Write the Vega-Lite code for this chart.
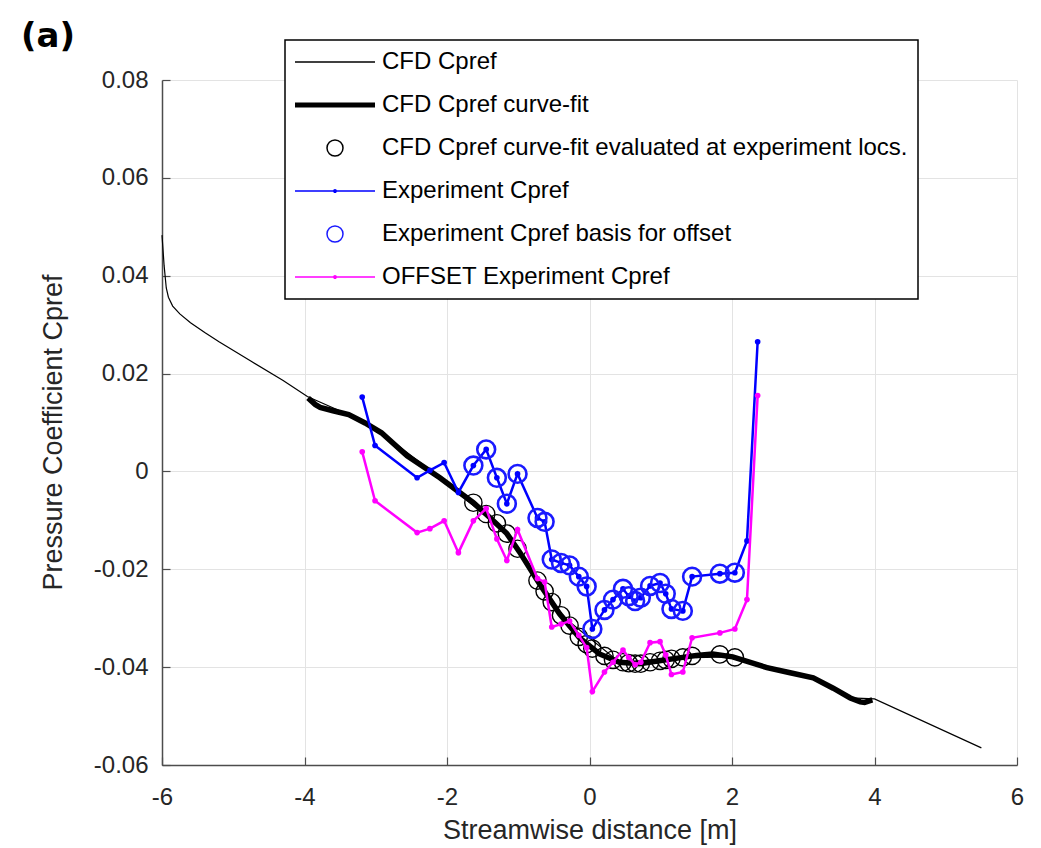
{
  "$schema": "https://vega.github.io/schema/vega-lite/v6.json",
  "autosize": {"type": "none"},
  "padding": {"left": 162, "top": 80, "right": 24, "bottom": 83},
  "width": 855,
  "height": 685,
  "background": "white",
  "title": {"text": "(a)", "anchor": "start", "frame": "group", "dx": -141, "dy": 42, "offset": 0, "fontSize": 34, "font": "DejaVu Sans", "fontWeight": "bold", "color": "black", "baseline": "alphabetic"},
  "config": {
    "view": {"stroke": null},
    "axis": {
      "labelFont": "Liberation Sans", "labelFontSize": 24, "labelColor": "#262626", "labelFlush": false,
      "titleFont": "Liberation Sans", "titleFontSize": 27, "titleFontWeight": "normal", "titleColor": "#262626",
      "domainColor": "#4d4d4d", "domainWidth": 1.5, "tickColor": "#4d4d4d", "tickWidth": 1.2, "tickSize": -8,
      "gridColor": "#e3e3e3", "gridWidth": 1, "labelPadding": 22
    },
    "legend": {
      "orient": "none", "legendX": 123, "legendY": -40,
      "strokeColor": "black", "strokeWidth": 1.5, "fillColor": "white", "padding": 10,
      "symbolSize": 400, "symbolStrokeWidth": 1.5, "symbolOffset": 28, "labelOffset": 35,
      "symbolFillColor": "transparent", "symbolOpacity": 1,
      "labelFont": "Liberation Sans", "labelFontSize": 24, "labelColor": "black", "labelLimit": 800,
      "rowPadding": 19, "symbolLimit": 0, "titlePadding": 0
    }
  },
  "datasets": {
    "series": [
      {"s": "CFD Cpref"}, {"s": "CFD Cpref curve-fit"}, {"s": "CFD Cpref curve-fit evaluated at experiment locs."},
      {"s": "Experiment Cpref"}, {"s": "Experiment Cpref basis for offset"}, {"s": "OFFSET Experiment Cpref"}
    ],
    "cfd": [
      {"x": -6.0, "cp": 0.0483}, {"x": -5.97, "cp": 0.0420}, {"x": -5.94, "cp": 0.0375}, {"x": -5.91, "cp": 0.0356},
      {"x": -5.85, "cp": 0.0338}, {"x": -5.75, "cp": 0.0322}, {"x": -5.6, "cp": 0.0304}, {"x": -5.4, "cp": 0.0284},
      {"x": -5.2, "cp": 0.0265}, {"x": -4.76, "cp": 0.0226}, {"x": -4.3, "cp": 0.0186}, {"x": -3.96, "cp": 0.0153},
      {"x": -3.38, "cp": 0.0116}, {"x": -2.92, "cp": 0.0079}, {"x": -2.1, "cp": -0.0013}, {"x": -1.16, "cp": -0.0127},
      {"x": -0.42, "cp": -0.0291}, {"x": 0.42, "cp": -0.0390}, {"x": 1.26, "cp": -0.0381}, {"x": 2.01, "cp": -0.0379},
      {"x": 3.14, "cp": -0.0422}, {"x": 3.66, "cp": -0.0463}, {"x": 4.0, "cp": -0.0465}, {"x": 5.5, "cp": -0.0565}
    ],
    "fit": [
      {"x": -3.95, "cp": 0.0150}, {"x": -3.85, "cp": 0.0137}, {"x": -3.78, "cp": 0.0131}, {"x": -3.6, "cp": 0.0124},
      {"x": -3.38, "cp": 0.0116}, {"x": -3.15, "cp": 0.0099}, {"x": -2.92, "cp": 0.0079}, {"x": -2.56, "cp": 0.0032},
      {"x": -2.1, "cp": -0.0013}, {"x": -1.63, "cp": -0.0064}, {"x": -1.4, "cp": -0.0094}, {"x": -1.16, "cp": -0.0127},
      {"x": -0.98, "cp": -0.0165}, {"x": -0.7, "cp": -0.0230}, {"x": -0.42, "cp": -0.0291}, {"x": -0.14, "cp": -0.0340},
      {"x": 0.14, "cp": -0.0373}, {"x": 0.42, "cp": -0.0390}, {"x": 0.7, "cp": -0.0393}, {"x": 0.98, "cp": -0.0387},
      {"x": 1.26, "cp": -0.0381}, {"x": 1.5, "cp": -0.0376}, {"x": 1.73, "cp": -0.0373}, {"x": 2.01, "cp": -0.0379},
      {"x": 2.49, "cp": -0.0401}, {"x": 2.8, "cp": -0.0411}, {"x": 3.14, "cp": -0.0422}, {"x": 3.42, "cp": -0.0443},
      {"x": 3.66, "cp": -0.0463}, {"x": 3.8, "cp": -0.0471}, {"x": 3.86, "cp": -0.0472}, {"x": 3.97, "cp": -0.0467}
    ],
    "evalpts": [
      {"x": -1.63, "cp": -0.0064}, {"x": -1.45, "cp": -0.0087}, {"x": -1.3, "cp": -0.0106}, {"x": -1.16, "cp": -0.0127},
      {"x": -1.01, "cp": -0.0158}, {"x": -0.73, "cp": -0.0223}, {"x": -0.63, "cp": -0.0245}, {"x": -0.53, "cp": -0.0267},
      {"x": -0.4, "cp": -0.0294}, {"x": -0.28, "cp": -0.0315}, {"x": -0.15, "cp": -0.0338}, {"x": -0.04, "cp": -0.0353},
      {"x": 0.04, "cp": -0.0362}, {"x": 0.21, "cp": -0.0377}, {"x": 0.33, "cp": -0.0385}, {"x": 0.47, "cp": -0.0390},
      {"x": 0.55, "cp": -0.0392}, {"x": 0.64, "cp": -0.0393}, {"x": 0.72, "cp": -0.0393}, {"x": 0.85, "cp": -0.0390},
      {"x": 0.99, "cp": -0.0387}, {"x": 1.07, "cp": -0.0385}, {"x": 1.15, "cp": -0.0383}, {"x": 1.31, "cp": -0.0380},
      {"x": 1.44, "cp": -0.0377}, {"x": 1.83, "cp": -0.0374}, {"x": 2.04, "cp": -0.0380}
    ],
    "exp": [
      {"x": -3.19, "cp": 0.0152}, {"x": -3.01, "cp": 0.0053}, {"x": -2.42, "cp": -0.0013}, {"x": -2.24, "cp": 0.0002},
      {"x": -2.04, "cp": 0.0018}, {"x": -1.84, "cp": -0.0043}, {"x": -1.63, "cp": 0.0012}, {"x": -1.45, "cp": 0.0045},
      {"x": -1.3, "cp": -0.0013}, {"x": -1.16, "cp": -0.0066}, {"x": -1.01, "cp": -0.0005}, {"x": -0.73, "cp": -0.0095},
      {"x": -0.63, "cp": -0.0103}, {"x": -0.53, "cp": -0.0180}, {"x": -0.4, "cp": -0.0187}, {"x": -0.28, "cp": -0.0192},
      {"x": -0.15, "cp": -0.0215}, {"x": -0.04, "cp": -0.0235}, {"x": 0.04, "cp": -0.0322}, {"x": 0.21, "cp": -0.0283},
      {"x": 0.33, "cp": -0.0262}, {"x": 0.47, "cp": -0.0240}, {"x": 0.55, "cp": -0.0255}, {"x": 0.64, "cp": -0.0265},
      {"x": 0.72, "cp": -0.0258}, {"x": 0.85, "cp": -0.0234}, {"x": 0.99, "cp": -0.0228}, {"x": 1.07, "cp": -0.0250},
      {"x": 1.15, "cp": -0.0281}, {"x": 1.31, "cp": -0.0285}, {"x": 1.44, "cp": -0.0215}, {"x": 1.83, "cp": -0.0209},
      {"x": 2.04, "cp": -0.0207}, {"x": 2.21, "cp": -0.0142}, {"x": 2.36, "cp": 0.0265}
    ],
    "offset": [
      {"x": -3.19, "cp": 0.0040}, {"x": -3.01, "cp": -0.0060}, {"x": -2.42, "cp": -0.0125}, {"x": -2.24, "cp": -0.0117},
      {"x": -2.04, "cp": -0.0101}, {"x": -1.84, "cp": -0.0166}, {"x": -1.63, "cp": -0.0101}, {"x": -1.45, "cp": -0.0076},
      {"x": -1.3, "cp": -0.0138}, {"x": -1.16, "cp": -0.0182}, {"x": -1.01, "cp": -0.0119}, {"x": -0.73, "cp": -0.0219},
      {"x": -0.63, "cp": -0.0226}, {"x": -0.53, "cp": -0.0318}, {"x": -0.4, "cp": -0.0312}, {"x": -0.28, "cp": -0.0306},
      {"x": -0.15, "cp": -0.0335}, {"x": -0.04, "cp": -0.0360}, {"x": 0.04, "cp": -0.0450}, {"x": 0.21, "cp": -0.0410},
      {"x": 0.33, "cp": -0.0390}, {"x": 0.47, "cp": -0.0365}, {"x": 0.55, "cp": -0.0380}, {"x": 0.64, "cp": -0.0395},
      {"x": 0.72, "cp": -0.0390}, {"x": 0.85, "cp": -0.0350}, {"x": 0.99, "cp": -0.0348}, {"x": 1.07, "cp": -0.0375},
      {"x": 1.15, "cp": -0.0415}, {"x": 1.31, "cp": -0.0410}, {"x": 1.44, "cp": -0.0340}, {"x": 1.83, "cp": -0.0330},
      {"x": 2.04, "cp": -0.0322}, {"x": 2.21, "cp": -0.0262}, {"x": 2.36, "cp": 0.0155}
    ]
  },
  "encoding": {
    "x": {
      "field": "x", "type": "quantitative",
      "scale": {"domain": [-6, 6], "nice": false, "zero": false},
      "axis": {"title": "Streamwise distance [m]", "values": [-6, -4, -2, 0, 2, 4, 6], "titlePadding": 8, "labelPadding": 28,
               "labelExpr": "datum.value < 0 ? '-' + format(-datum.value, 'd') : format(datum.value, 'd')"}
    },
    "y": {
      "field": "cp", "type": "quantitative",
      "scale": {"domain": [-0.06, 0.08], "nice": false, "zero": false},
      "axis": {"title": "Pressure Coefficient Cpref", "values": [-0.06, -0.04, -0.02, 0, 0.02, 0.04, 0.06, 0.08], "titlePadding": 26, "titleY": 352,
               "labelExpr": "abs(datum.value) < 1e-9 ? '0' : (datum.value < 0 ? '-' + format(-datum.value, '.2f') : format(datum.value, '.2f'))"}
    }
  },
  "layer": [
    {
      "data": {"name": "cfd"},
      "mark": {"type": "line", "strokeWidth": 1.2, "opacity": 1, "color": "black"}
    },
    {
      "data": {"name": "fit"},
      "mark": {"type": "line", "strokeWidth": 5.5, "opacity": 1, "color": "black"}
    },
    {
      "data": {"name": "evalpts"},
      "mark": {"type": "point", "shape": "circle", "filled": false, "size": 300, "strokeWidth": 1.4, "opacity": 1, "color": "black"}
    },
    {
      "data": {"name": "exp"},
      "mark": {"type": "line", "strokeWidth": 2.5, "opacity": 1, "color": "#0000ff", "point": {"filled": true, "size": 32, "opacity": 1, "color": "#0000ff"}}
    },
    {
      "data": {"name": "exp"},
      "transform": [{"filter": "datum.x >= -1.7 && datum.x <= 2.1"}],
      "mark": {"type": "point", "shape": "circle", "filled": false, "size": 320, "strokeWidth": 2.6, "opacity": 1, "color": "#1a1aff"}
    },
    {
      "data": {"name": "offset"},
      "mark": {"type": "line", "strokeWidth": 2.5, "opacity": 1, "color": "#ff00ff", "point": {"filled": true, "size": 32, "opacity": 1, "color": "#ff00ff"}}
    },
    {
      "data": {"name": "series"},
      "mark": {"type": "point", "filled": false, "opacity": 1, "strokeWidth": 1.5, "invalid": "filter"},
      "encoding": {
        "color": {
          "field": "s", "type": "nominal",
          "scale": {
            "domain": ["CFD Cpref", "CFD Cpref curve-fit", "CFD Cpref curve-fit evaluated at experiment locs.", "Experiment Cpref", "Experiment Cpref basis for offset", "OFFSET Experiment Cpref"],
            "range": ["black", "black", "black", "#0000ff", "#1a1aff", "#ff00ff"]
          },
          "legend": {"title": null}
        },
        "shape": {
          "field": "s", "type": "nominal",
          "scale": {
            "domain": ["CFD Cpref", "CFD Cpref curve-fit", "CFD Cpref curve-fit evaluated at experiment locs.", "Experiment Cpref", "Experiment Cpref basis for offset", "OFFSET Experiment Cpref"],
            "range": [
              "M-4,0H4",
              "M-4,-0.18H4M-4,-0.06H4M-4,0.06H4M-4,0.18H4",
              "M-0.8,0A0.8,0.8,0,1,1,0.8,0A0.8,0.8,0,1,1,-0.8,0Z",
              "M-4,0H4M-0.12,0A0.12,0.12,0,1,1,0.12,0A0.12,0.12,0,1,1,-0.12,0Z",
              "M-0.8,0A0.8,0.8,0,1,1,0.8,0A0.8,0.8,0,1,1,-0.8,0Z",
              "M-4,0H4M-0.12,0A0.12,0.12,0,1,1,0.12,0A0.12,0.12,0,1,1,-0.12,0Z"
            ]
          },
          "legend": {"title": null}
        }
      }
    }
  ]
}
